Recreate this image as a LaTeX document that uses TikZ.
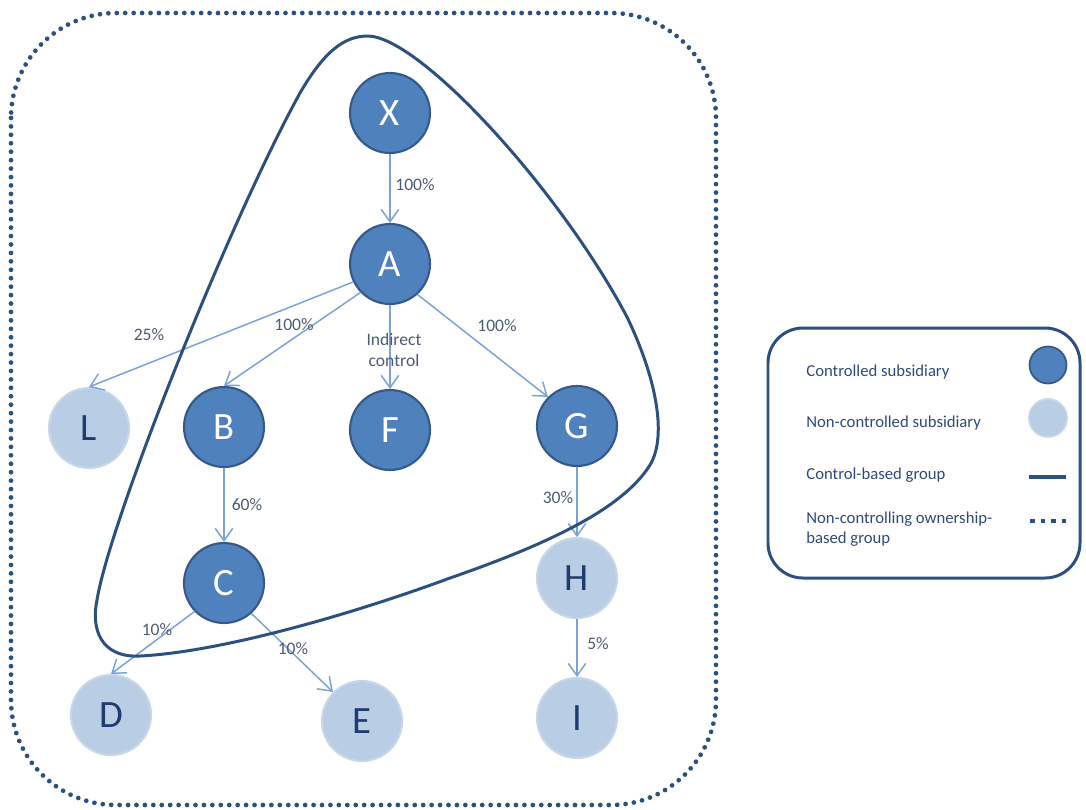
\documentclass[tikz,border=0pt]{standalone}
\usepackage{fontspec}
\setmainfont{Carlito}
\usetikzlibrary{arrows.meta}
\definecolor{darkfill}{HTML}{4F81BD}
\definecolor{darkborder}{HTML}{34598A}
\definecolor{lightfill}{HTML}{B9CDE5}
\definecolor{lightborder}{HTML}{C6D6EB}
\definecolor{lighttext}{HTML}{1F3C6E}
\definecolor{edgecol}{HTML}{7AA3DA}
\definecolor{groupcol}{HTML}{2A5180}
\definecolor{labelcol}{HTML}{4D5B75}
\definecolor{legcol}{HTML}{2E4A7A}
\tikzset{
  ctrl/.style={circle, fill=darkfill, draw=darkborder, line width=1.2pt, minimum size=1.6cm, inner sep=0pt, text=white, font=\fontsize{22}{24}\selectfont},
  nonctrl/.style={circle, fill=lightfill, draw=lightborder, line width=1.2pt, minimum size=1.6cm, inner sep=0pt, text=lighttext, font=\fontsize{22}{24}\selectfont},
  own/.style={draw=edgecol, line width=0.85pt, -{Straight Barb[length=7pt,width=10pt]}},
  pct/.style={text=labelcol, font=\fontsize{10}{11.5}\selectfont, inner sep=1pt, align=center},
  legtext/.style={text=legcol, font=\fontsize{9.5}{11}\selectfont, anchor=west, align=left, inner sep=0pt},
  groupline/.style={draw=groupcol, line width=1.7pt},
  ownline/.style={draw=groupcol, line width=2.7pt, line cap=round, dash pattern=on 0pt off 4.8pt},
  legbox/.style={draw=groupcol, line width=1.7pt, rounded corners=0.7cm}
}
\begin{document}
\begin{tikzpicture}[x=0.02cm,y=-0.02cm]
\useasboundingbox (0,0) rectangle (1086,809);
% outer ownership-based group
\draw[ownline, rounded corners=2.1cm] (11,13) rectangle (716,805);

% nodes
\node[ctrl] (X) at (390,113) {X};
\node[ctrl] (A) at (390,264) {A};
\node[nonctrl] (L) at (89,428) {L};
\node[ctrl] (B) at (224,427) {B};
\node[ctrl] (F) at (390,430) {F};
\node[ctrl] (G) at (577,426) {G};
\node[ctrl] (C) at (224,583) {C};
\node[nonctrl] (H) at (577,578) {H};
\node[nonctrl] (D) at (111,715) {D};
\node[nonctrl] (E) at (362,721) {E};
\node[nonctrl] (I) at (577,718) {I};

% ownership edges
\draw[own] (X.south) -- (A.north);
\draw[own] (A.206) -- (L.north);
\draw[own] (A.224) -- (B.north);
\draw[own] (A.south) -- (F.north);
\draw[own] (A.312) -- (G.135);
\draw[own] (B.south) -- (C.north);
\draw[own] (G.south) -- (H.north);
\draw[own] (C.224) -- (D.north);
\draw[own] (C.312) -- (E.135);
\draw[own] (H.south) -- (I.north);

% edge labels
\node[pct] (lXA) at (415,185) {100\%};
\node[pct] (lAL) at (149,335) {25\%};
\node[pct] (lAB) at (294,325) {100\%};
\node[pct] (lAF) at (394,350) {Indirect\\control};
\node[pct] (lAG) at (497,326) {100\%};
\node[pct] (lBC) at (247,505) {60\%};
\node[pct] (lGH) at (558,498) {30\%};
\node[pct] (lCD) at (157,630) {10\%};
\node[pct] (lCE) at (293,649) {10\%};
\node[pct] (lHI) at (598,644) {5\%};

% control-based group
\draw[groupline] (368,36)
  .. controls (420,37) and (560,190) .. (627,317)
  .. controls (655,375) and (668,435) .. (650,465)
  .. controls (625,505) and (560,540) .. (450,578)
  .. controls (350,615) and (220,652) .. (140,656)
  .. controls (100,658) and (91,628) .. (97,600)
  .. controls (110,520) and (230,220) .. (300,93)
  .. controls (325,50) and (345,36) .. cycle;

% legend
\draw[legbox] (768,328) rectangle (1080,578);
\node[legtext] (t1) at (806,372) {Controlled subsidiary};
\node[legtext] (t2) at (806,423) {Non-controlled subsidiary};
\node[legtext] (t3) at (806,475) {Control-based group};
\node[legtext] (t4) at (806,529) {Non-controlling ownership-\\based group};
\node[ctrl, minimum size=0.74cm, line width=1pt] (lg1) at (1048,365) {};
\node[nonctrl, minimum size=0.76cm, line width=1pt] (lg2) at (1048,418) {};
\coordinate (s1) at (1029,477);
\coordinate (s2) at (1066,477);
\draw[draw=groupcol, line width=1.8pt] (s1) -- (s2);
\coordinate (d1) at (1030,521);
\coordinate (d2) at (1066,521);
\draw[draw=groupcol, line width=2.4pt, dash pattern=on 2.6pt off 3.4pt] (d1) -- (d2);
\end{tikzpicture}
\end{document}
